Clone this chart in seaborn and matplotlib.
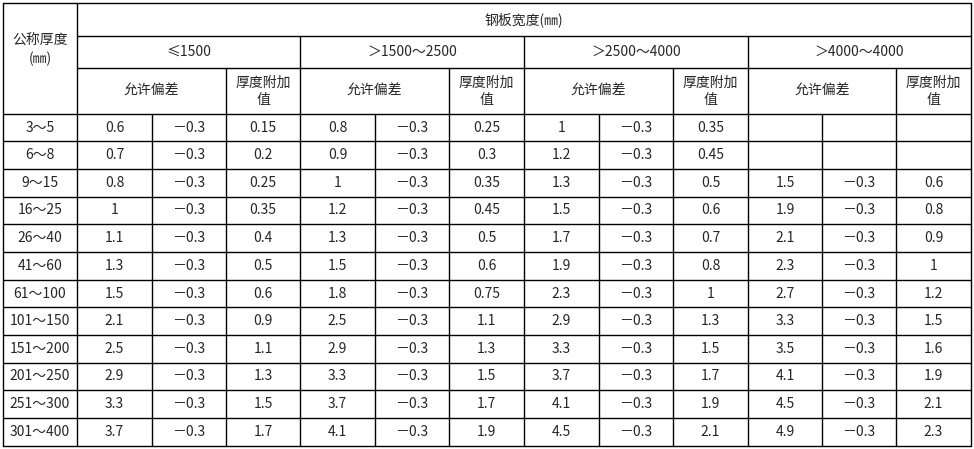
import matplotlib
matplotlib.use("Agg")
import matplotlib.pyplot as plt
import seaborn as sns

sns.set_theme(style="white", font="Noto Sans CJK SC")

thickness = ["3～5", "6～8", "9～15", "16～25", "26～40", "41～60", "61～100",
             "101～150", "151～200", "201～250", "251～300", "301～400"]
width_groups = ["≤1500", "＞1500～2500", "＞2500～4000", "＞4000～4000"]
tol_plus = [
    ["0.6", "0.7", "0.8", "1", "1.1", "1.3", "1.5", "2.1", "2.5", "2.9", "3.3", "3.7"],
    ["0.8", "0.9", "1", "1.2", "1.3", "1.5", "1.8", "2.5", "2.9", "3.3", "3.7", "4.1"],
    ["1", "1.2", "1.3", "1.5", "1.7", "1.9", "2.3", "2.9", "3.3", "3.7", "4.1", "4.5"],
    ["", "", "1.5", "1.9", "2.1", "2.3", "2.7", "3.3", "3.5", "4.1", "4.5", "4.9"],
]
tol_minus = "－0.3"
add_val = [
    ["0.15", "0.2", "0.25", "0.35", "0.4", "0.5", "0.6", "0.9", "1.1", "1.3", "1.5", "1.7"],
    ["0.25", "0.3", "0.35", "0.45", "0.5", "0.6", "0.75", "1.1", "1.3", "1.5", "1.7", "1.9"],
    ["0.35", "0.45", "0.5", "0.6", "0.7", "0.8", "1", "1.3", "1.5", "1.7", "1.9", "2.1"],
    ["", "", "0.6", "0.8", "0.9", "1", "1.2", "1.5", "1.6", "1.9", "2.1", "2.3"],
]

col_edges = [3, 77, 152, 226, 300, 375, 449, 524, 599, 673, 748, 822, 896, 971]
row_edges = [3, 36, 68, 114, 141, 169, 197, 224, 252, 280, 307, 335, 363, 390, 418, 446]

fig = plt.figure(figsize=(9.74, 4.49), dpi=100)
ax = fig.add_axes([0, 0, 1, 1])
ax.set_xlim(0, 974)
ax.set_ylim(449, 0)
ax.axis("off")

lw = 1.0
def hline(y, x0, x1):
    ax.plot([x0, x1], [y, y], color="black", lw=lw)
def vline(x, y0, y1):
    ax.plot([x, x], [y0, y1], color="black", lw=lw)

# outer border
hline(row_edges[0], col_edges[0], col_edges[-1])
hline(row_edges[-1], col_edges[0], col_edges[-1])
vline(col_edges[0], row_edges[0], row_edges[-1])
vline(col_edges[-1], row_edges[0], row_edges[-1])
# header lines
hline(row_edges[1], col_edges[1], col_edges[-1])
hline(row_edges[2], col_edges[1], col_edges[-1])
hline(row_edges[3], col_edges[0], col_edges[-1])
vline(col_edges[1], row_edges[0], row_edges[-1])
for g in range(4):
    x0 = col_edges[1 + 3 * g]
    if g > 0:
        vline(x0, row_edges[1], row_edges[-1])
    vline(col_edges[3 + 3 * g], row_edges[2], row_edges[-1])
    vline(col_edges[2 + 3 * g], row_edges[3], row_edges[-1])
for r in range(4, len(row_edges) - 1):
    hline(row_edges[r], col_edges[0], col_edges[-1])

def cx(a, b):
    return (col_edges[a] + col_edges[b]) / 2
def cy(a, b):
    return (row_edges[a] + row_edges[b]) / 2

fs = 10
ax.text(cx(1, 13), cy(0, 1), "钢板宽度(㎜)", ha="center", va="center", fontsize=fs)
ax.text(cx(0, 1), 50, "公称厚度\n(㎜)", ha="center", va="center", fontsize=fs, linespacing=1.3)
for g, name in enumerate(width_groups):
    ax.text(cx(1 + 3 * g, 4 + 3 * g), cy(1, 2), name, ha="center", va="center", fontsize=fs)
    ax.text(cx(1 + 3 * g, 3 + 3 * g), cy(2, 3), "允许偏差", ha="center", va="center", fontsize=fs)
    ax.text(cx(3 + 3 * g, 4 + 3 * g), cy(2, 3), "厚度附加\n值", ha="center", va="center",
            fontsize=fs, linespacing=1.3)

for i, t in enumerate(thickness):
    y = cy(3 + i, 4 + i)
    ax.text(cx(0, 1), y, t, ha="center", va="center", fontsize=fs)
    for g in range(4):
        if tol_plus[g][i] == "":
            continue
        ax.text(cx(1 + 3 * g, 2 + 3 * g), y, tol_plus[g][i], ha="center", va="center", fontsize=fs)
        ax.text(cx(2 + 3 * g, 3 + 3 * g), y, tol_minus, ha="center", va="center", fontsize=fs)
        ax.text(cx(3 + 3 * g, 4 + 3 * g), y, add_val[g][i], ha="center", va="center", fontsize=fs)

fig.savefig("out.png", dpi=100, facecolor="white")
